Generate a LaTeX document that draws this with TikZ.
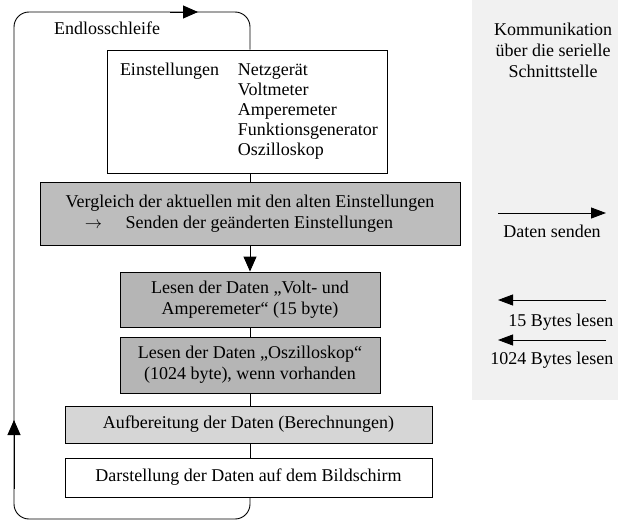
\documentclass[tikz,border=0pt]{standalone}
\usepackage{fontspec}
\setmainfont{Liberation Serif}
\usetikzlibrary{
	positioning,
	arrows.meta
}

\tikzset{
	stepbox/.style={draw, line width=0.9pt, inner sep=2pt, align=center},
	flow/.style={line width=0.9pt},
	tip/.style={-{Triangle[length=15pt,width=13pt]}}
}

\begin{document}
\begin{tikzpicture}[x=1pt,y=-1pt,font=\fontsize{18}{21}\selectfont]
		\useasboundingbox (0,0) rectangle (618,522);

		% Schnittstelle
		\fill[gray!11] (472,0) rectangle (618,400);
		\node (ser) at (553,50) [align=center] {Kommunikation\\über die serielle\\Schnittstelle};

		% Ablauf
		\draw
			node[stepbox,fill=white,minimum width=280pt,minimum height=123pt,inner xsep=13pt,text width=254pt,align=left]
				(einst) at (247,111.5)
				{\fontsize{18}{20}\selectfont
				 \begin{tabular}{@{}l@{\hspace{19pt}}l@{}}
					Einstellungen & Netzgerät\\
					              & Voltmeter\\
					              & Amperemeter\\
					              & Funktionsgenerator\\
					              & Oszilloskop
				\end{tabular}}
			node[stepbox,fill=gray!52,minimum width=420pt,minimum height=63pt] (vergl) at (250,213.5)
				{Vergleich der aktuellen mit den alten Einstellungen\\
				 $\rightarrow$\hspace{1.3em}Senden der geänderten Einstellungen\kern22pt}
			node[stepbox,fill=gray!58,minimum width=260pt,minimum height=55pt] (volt) at (250,299.5)
				{Lesen der Daten „Volt- und\\ Amperemeter“ (15 byte)}
			node[stepbox,fill=gray!58,minimum width=260pt,minimum height=56pt] (oszi) at (250,365)
				{Lesen der Daten „Oszilloskop“\\ (1024 byte), wenn vorhanden}
			node[stepbox,fill=gray!32,minimum width=367pt,minimum height=37pt] (aufb) at (248.5,424.5)
				{Aufbereitung der Daten (Berechnungen)}
			node[stepbox,fill=white,minimum width=367pt,minimum height=39pt] (darst) at (248.5,477.5)
				{Darstellung der Daten auf dem Bildschirm}
			node (endl) at (107,28) {Endlosschleife}
		;

		\draw[flow] (einst.south -| volt.north) -- (vergl.north);
		\draw[flow,tip] (vergl.south -| volt.north) -- (volt.north);
		\draw[flow] (volt.south) -- (oszi.north);
		\draw[flow] (oszi.south) -- (aufb.north -| oszi.south);
		\draw[flow] (aufb.south -| oszi.south) -- (darst.north -| oszi.south);

		% Schleife
		\coordinate (lu) at (14,519);
		\coordinate (lm) at (14,420);
		\coordinate (lo) at (14,12);
		\coordinate (om) at (198,12);
		\draw[flow,rounded corners=15pt] (darst.south -| oszi.south) |- (lu) -- (lm);
		\draw[flow,tip] (lu) ++(0,-30) -- (lm);
		\draw[flow,rounded corners=15pt] (lm) -- (lo) -- (om);
		\draw[flow,tip] (170,12) -- (om);
		\draw[flow,rounded corners=15pt] (om) -| (einst.north -| oszi.south);

		% Pfeile
		\coordinate (sl) at (498,213);
		\coordinate (sr) at (606,213);
		\coordinate (al) at (498,300);
		\coordinate (ar) at (606,300);
		\coordinate (bl) at (498,340);
		\coordinate (br) at (606,340);
		\draw[flow,-{Triangle[length=15pt,width=11pt]}] (sl) -- (sr);
		\draw[flow,-{Triangle[length=15pt,width=11pt]}] (ar) -- (al);
		\draw[flow,-{Triangle[length=15pt,width=11pt]}] (br) -- (bl);
		\node (send) at (552,231) {Daten senden};
		\node[anchor=east] (les15) at (617,322) {15 Bytes lesen};
		\node[anchor=east] (les1024) at (617,360) {1024 Bytes lesen};
    \end{tikzpicture}
\end{document}
